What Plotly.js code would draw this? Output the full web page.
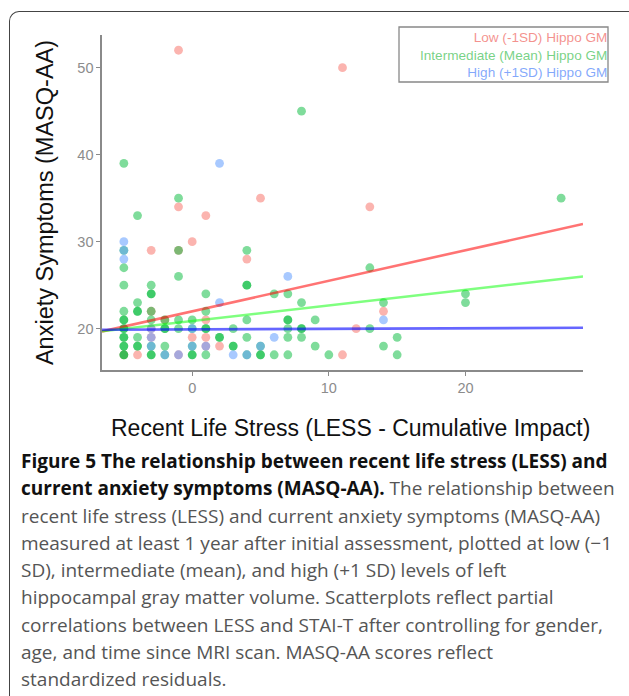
<!DOCTYPE html>
<html>
<head>
<meta charset="utf-8">
<script src="https://cdn.plot.ly/plotly-3.0.1.min.js"></script>
<style>
  html, body { margin: 0; padding: 0; width: 629px; height: 696px; overflow: hidden; background: #fff; }
  #frame { position: absolute; left: 9px; top: 11px; width: 700px; height: 800px;
           border-left: 1.5px solid #444; border-top: 1.5px solid #444; border-top-left-radius: 10px; }
  #chart { position: absolute; left: 0; top: 0; width: 629px; height: 445px; }
  #caption { position: absolute; left: 21px; top: 448px; width: 605px;
             font-family: "Open Sans", "Noto Sans", sans-serif; font-size: 19px; line-height: 27.3px;
             color: #555; white-space: nowrap; letter-spacing: 0px; }
  #caption b { color: #111; font-weight: 700; }
</style>
</head>
<body>
<div id="frame"></div>
<div id="chart"></div>
<div id="caption"><b>Figure 5 The relationship between recent life stress (LESS) and<br>current anxiety symptoms (MASQ-AA).</b> The relationship between<br>recent life stress (LESS) and current anxiety symptoms (MASQ-AA)<br>measured at least 1 year after initial assessment, plotted at low (−1<br>SD), intermediate (mean), and high (+1 SD) levels of left<br>hippocampal gray matter volume. Scatterplots reflect partial<br>correlations between LESS and STAI-T after controlling for gender,<br>age, and time since MRI scan. MASQ-AA scores reflect<br>standardized residuals.</div>
<script>
// Low (-1SD) Hippo GM points
const lowX = [-1, 11, 5, -1, 1, 13, 0, -3, -1, 4, 1, 0, 1, 1, 2, 14, 12, 11, -4, -5, -3, -2, -3, -3, -1];
const lowY = [52, 50, 35, 34, 33, 34, 30, 29, 29, 28, 21, 19, 19, 18, 18, 22, 20, 17, 17, 17, 22, 21, 20, 19, 17];

// Intermediate (Mean) Hippo GM points
const midX = [8, -5, -1, -4, 27, -5, -1, 4, -5, -1, -5, -3, 4, 4, -3, -3, 1, 6, 7, -4, 8, 14, 20, 20, 13,
              -5, -4, -4, -3, 1, -5, -5, -3, -2, -1, 0, 4, 7, 7, 9,
              -5, -5, -2, -2, -1, 0, 1, 1, 3, 7, 8, 8, 13,
              -5, -5, -4, 2, 2, 4, 7, 8, 15,
              -5, -5, -4, -4, -3, -2, 0, 3, 3, 5, 9, 14,
              -5, -5, -3, -3, -2, 0, 0, 1, 4, 5, 5, 6, 7, 10, 15];
const midY = [45, 39, 35, 33, 35, 29, 29, 29, 27, 26, 25, 25, 25, 25, 24, 24, 24, 24, 24, 23, 23, 23, 24, 23, 27,
              22, 22, 22, 22, 22, 21, 21, 21, 21, 21, 21, 21, 21, 21, 21,
              20, 20, 20, 20, 20, 20, 20, 20, 20, 20, 20, 20, 20,
              19, 19, 19, 19, 19, 19, 19, 19, 19,
              18, 18, 18, 18, 18, 18, 18, 18, 18, 18, 18, 18,
              17, 17, 17, 17, 17, 17, 17, 17, 17, 17, 17, 17, 17, 17, 17];

// High (+1SD) Hippo GM points
const highX = [2, -5, -5, -5, 2, 7, 6, 3, 14, -3, -3, -1, 1, 0, 5, 4, -3, -2, 0];
const highY = [39, 30, 29, 28, 23, 26, 19, 17, 21, 20, 19, 17, 18, 18, 18, 17, 18, 17, 20];

// Fitted lines at the three levels (ends of the x range)
const lineX = [-6.6, 28.6];
const lowLine = [19.68, 32.03];
const midLine = [19.7, 26.0];
const highLine = [19.88, 20.1];

const seriesNames = ["Low (-1SD) Hippo GM", "Intermediate (Mean) Hippo GM", "High (+1SD) Hippo GM"];
const xTicks = [0, 10, 20];
const yTicks = [20, 30, 40, 50];
const xTitle = "Recent Life Stress (LESS - Cumulative Impact)";
const yTitle = "Anxiety Symptoms (MASQ-AA)";

const ptCol = ["rgba(248,118,109,0.55)", "rgba(0,186,56,0.5)", "rgba(97,156,255,0.55)"];
const lnCol = ["rgba(255,0,0,0.55)", "rgba(0,255,0,0.5)", "rgba(0,0,255,0.6)"];
const lgCol = ["rgba(240,110,105,0.75)", "rgba(60,190,80,0.7)", "rgba(90,140,250,0.75)"];

function pts(x, y, i) {
  return { type: "scatter", mode: "markers", x: x, y: y, name: seriesNames[i],
           marker: { size: 8.8, color: ptCol[i], line: { width: 0 } }, hoverinfo: "skip" };
}
function ln(y, i) {
  return { type: "scatter", mode: "lines", x: lineX, y: y, name: seriesNames[i],
           line: { color: lnCol[i], width: 2.6 }, hoverinfo: "skip" };
}

const data = [pts(lowX, lowY, 0), pts(midX, midY, 1), pts(highX, highY, 2),
              ln(lowLine, 0), ln(midLine, 1), ln(highLine, 2)];

const font = "Liberation Sans, Arial, sans-serif";
const layout = {
  width: 629, height: 445,
  margin: { l: 102, r: 46, t: 35, b: 75 },
  paper_bgcolor: "rgba(0,0,0,0)", plot_bgcolor: "rgba(0,0,0,0)",
  showlegend: false,
  font: { family: font },
  xaxis: {
    range: [-6.6, 28.6], tickvals: xTicks, ticktext: xTicks.map(String),
    showgrid: false, zeroline: false, showline: true, linecolor: "#8a8a8a", linewidth: 1.6,
    ticks: "outside", ticklen: 4, tickcolor: "#8a8a8a", tickwidth: 1,
    tickfont: { family: font, size: 14.5, color: "#8c8c8c" }
  },
  yaxis: {
    range: [15.25, 53.75], tickvals: yTicks, ticktext: yTicks.map(String),
    showgrid: false, zeroline: false, showline: true, linecolor: "#8a8a8a", linewidth: 1.6,
    ticks: "outside", ticklen: 4, tickcolor: "#8a8a8a", tickwidth: 1,
    tickfont: { family: font, size: 14.5, color: "#8c8c8c" },
    title: { text: yTitle, font: { family: font, size: 23.5, color: "#111" }, standoff: 17 }
  },
  shapes: [{ type: "rect", xref: "paper", yref: "paper",
             x0: (399 - 102) / 481, x1: (608 - 102) / 481, y0: (370 - 82) / 335, y1: (370 - 27) / 335,
             line: { color: "#888", width: 1.3 }, fillcolor: "rgba(0,0,0,0)" }],
  annotations: [{
    xref: "paper", yref: "paper", x: (609 - 102) / 481, y: (370 - 28) / 335,
    xanchor: "right", yanchor: "top", align: "right", showarrow: false,
    font: { family: font, size: 13.6, color: "#888" },
    text: seriesNames.map((s, i) => '<span style="color:' + lgCol[i] + '">' + s + '</span>').join("<br>")
  }, {
    xref: "paper", yref: "paper", x: (350 - 102) / 481, y: (370 - 428) / 335,
    xanchor: "center", yanchor: "middle", showarrow: false,
    font: { family: font, size: 23, color: "#111" }, text: xTitle
  }]
};

Plotly.newPlot("chart", data, layout, { staticPlot: true, displayModeBar: false });
</script>
</body>
</html>
